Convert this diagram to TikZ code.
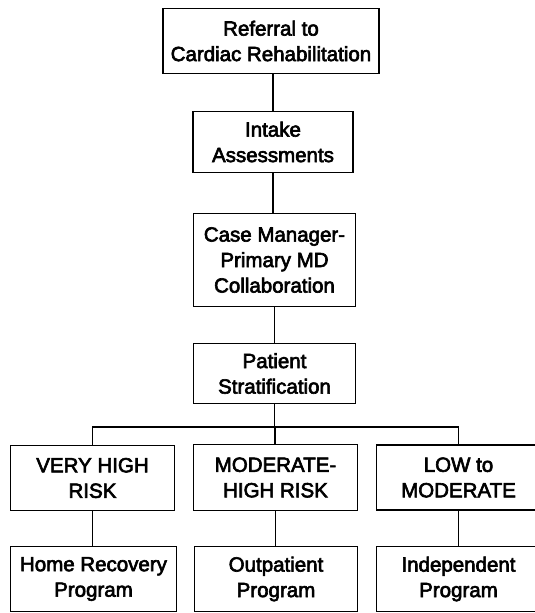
\documentclass[tikz,border=0pt]{standalone}
\usepackage{fontspec}
\setmainfont{Liberation Sans}
\newfontfamily\boxfont[FakeBold=3]{Liberation Sans}
\begin{document}
\begin{tikzpicture}[x=1pt,y=-1pt,
  box/.style={draw=black, line width=1.7pt, fill=white, inner sep=0pt,
    align=center, font=\boxfont\fontsize{20.5}{25.5}\selectfont},
  link/.style={line width=1.7pt, draw=black}]
\useasboundingbox (0,0) rectangle (535,613);
\fill[white] (0,0) rectangle (535,613);
% centre column
\node[box, minimum width=216pt, minimum height=65pt] (ref) at (271,41) {Referral to\\Cardiac Rehabilitation};
\node[box, minimum width=160pt, minimum height=61pt] (int) at (273,142) {Intake\\Assessments};
\node[box, minimum width=162pt, minimum height=93pt] (cm) at (274.5,260) {Case Manager-\\Primary MD\\Collaboration};
\node[box, minimum width=162pt, minimum height=60pt] (ps) at (274.5,373.5) {Patient\\Stratification};
% risk row
\node[box, minimum width=164pt, minimum height=65pt] (vh) at (92.5,478) {VERY HIGH\\RISK};
\node[box, minimum width=164pt, minimum height=66pt] (mh) at (275.5,477.5) {MODERATE-\\HIGH RISK};
\node[box, minimum width=164pt, minimum height=65pt] (lm) at (458.5,477.5) {LOW to\\MODERATE};
% program row
\node[box, minimum width=166pt, minimum height=65pt] (hr) at (93.5,579) {Home Recovery\\Program};
\node[box, minimum width=163pt, minimum height=65pt] (op) at (276,579) {Outpatient\\Program};
\node[box, minimum width=164pt, minimum height=65pt] (ip) at (458.5,579) {Independent\\Program};
% connectors
\coordinate (hub) at (275,427);
\draw[link] (ref.south -| int.north) -- (int.north);
\draw[link] (int.south) -- (int.south |- cm.north);
\draw[link] (cm.south) -- (ps.north);
\draw[link] (ps.south) -- (ps.south |- hub);
\draw[link] (hub) -| (vh.north);
\draw[link] (hub) -| (lm.north);
\draw[link] (hub) -- (hub |- mh.north);
\draw[link] (vh.south) -- (vh.south |- hr.north);
\draw[link] (mh.south) -- (mh.south |- op.north);
\draw[link] (lm.south) -- (lm.south |- ip.north);
\end{tikzpicture}
\end{document}
